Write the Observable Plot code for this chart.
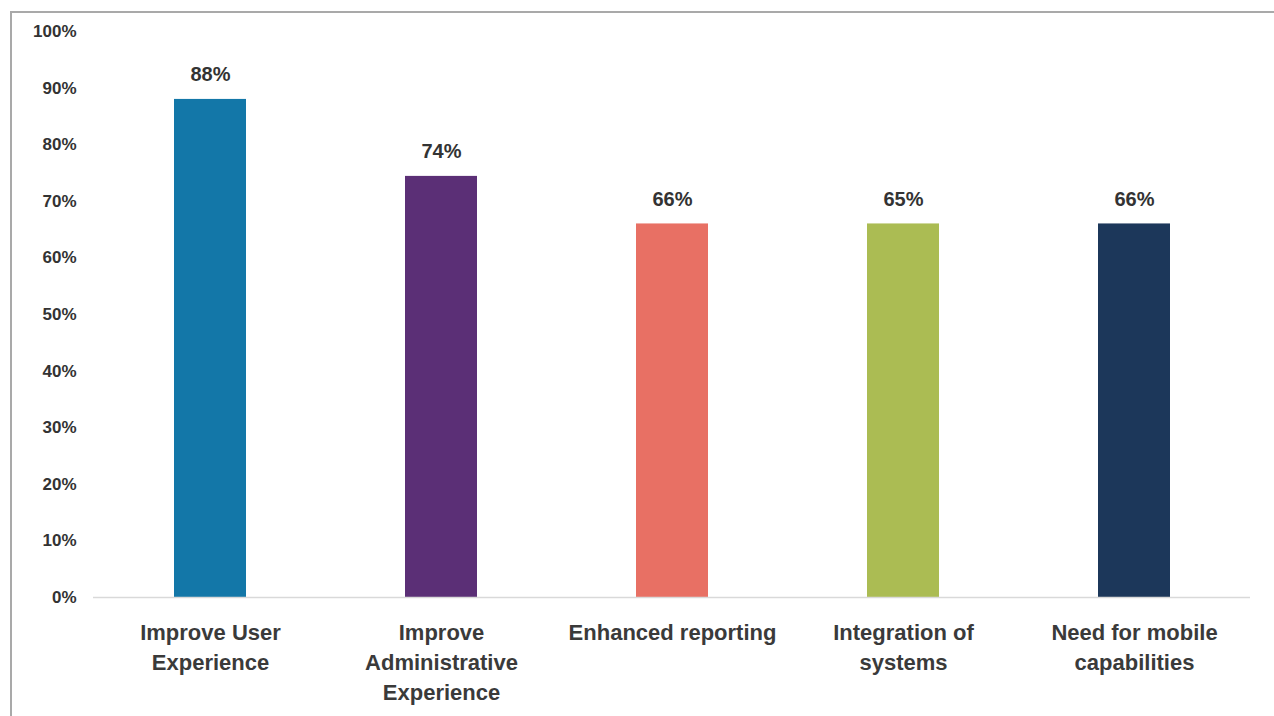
<!DOCTYPE html>
<html>
<head>
<meta charset="utf-8">
<script src="https://cdn.jsdelivr.net/npm/d3@7"></script>
<script src="https://cdn.jsdelivr.net/npm/@observablehq/plot@0.6"></script>
<style>
  html, body { margin: 0; padding: 0; background: #fff; }
  #wrap { position: relative; width: 1274px; height: 716px; overflow: hidden; }
  #frame { position: absolute; left: 10px; top: 11px; width: 1262px; height: 720px;
           border-left: 2px solid #a9a9a9; border-top: 2px solid #a9a9a9; border-right: 1px solid #e6e6e6; pointer-events: none; }
  #chart { position: absolute; left: 0; top: 0; }
</style>
</head>
<body>
<div id="wrap"><div id="chart"></div><div id="frame"></div></div>
<script>
const categories = [
  "Improve User\nExperience",
  "Improve\nAdministrative\nExperience",
  "Enhanced reporting",
  "Integration of\nsystems",
  "Need for mobile\ncapabilities"
];
const values = [0.88, 0.744, 0.66, 0.66, 0.66];
const valueLabels = ["88%", "74%", "66%", "65%", "66%"];
const colors = ["#1377a8", "#5b2f76", "#e87064", "#abbc53", "#1c375a"];
const yTicks = [0, 0.1, 0.2, 0.3, 0.4, 0.5, 0.6, 0.7, 0.8, 0.9, 1.0];

const data = categories.map((c, i) => ({cat: c, value: values[i], label: valueLabels[i], color: colors[i]}));

const chart = Plot.plot({
  width: 1274,
  height: 716,
  marginLeft: 93,
  marginRight: 24,
  marginTop: 31,
  marginBottom: 119,
  style: {fontFamily: "'Liberation Sans', Arial, sans-serif", background: "transparent", color: "#333"},
  x: {domain: categories, paddingInner: 0.69, paddingOuter: 0.345, label: null},
  y: {domain: [0, 1], label: null},
  marks: [
    Plot.barY(data, {x: "cat", y: "value", fill: "color"}),
    Plot.ruleY([0], {stroke: "#d9d9d9", strokeWidth: 1.5}),
    Plot.axisY({ticks: yTicks, tickFormat: d => Math.round(d * 100) + "%", tickSize: 0, tickPadding: 17,
      fontSize: 17, fontWeight: "bold", fill: "#333", label: null,
      style: {letterSpacing: "1.8px"}}),
    Plot.axisX({tickSize: 0, tickPadding: 21, fontSize: 22, fontWeight: "bold", fill: "#3a3a3a",
      lineHeight: 1.36, label: null}),
    Plot.text(data, {x: "cat", y: "value", text: "label", lineAnchor: "bottom", dy: -18,
      fontSize: 20, fontWeight: "bold", fill: "#333", style: {letterSpacing: "1.5px"}})
  ]
});
document.getElementById("chart").appendChild(chart);
</script>
</body>
</html>
